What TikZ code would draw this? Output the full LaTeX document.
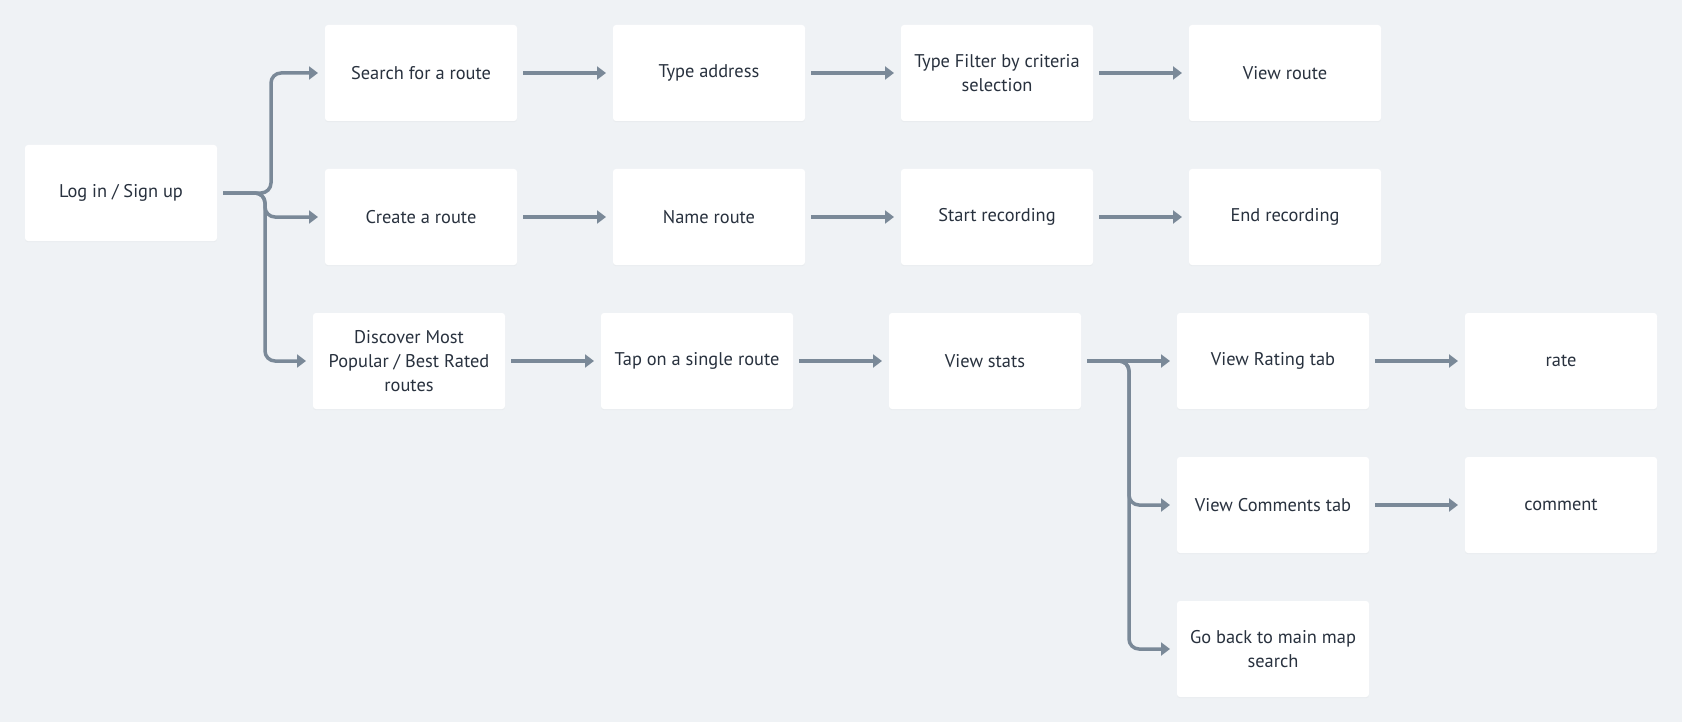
\documentclass[tikz,border=0pt]{standalone}
\usepackage{fontspec}
\setmainfont{PT Sans}
\usepackage{tikz}
\usetikzlibrary{arrows.meta,positioning,shadows}
\definecolor{pagebg}{RGB}{239,242,245}
\definecolor{linkline}{RGB}{122,137,152}
\definecolor{boxtext}{RGB}{40,49,62}

\begin{document}
\begin{tikzpicture}[
    x=0.5pt, y=-0.5pt,
    node distance=24pt and 48pt,
    stepbox/.style={rectangle, rounded corners=1.5pt, fill=white, text=boxtext, outer sep=0pt,
                    minimum width=96pt, minimum height=48pt, align=center,
                    font=\fontsize{9.2}{11.8}\selectfont,
                    drop shadow={shadow xshift=0pt, shadow yshift=-0.6pt, opacity=0.05}},
    arr/.style={-{Triangle[length=4.5pt, width=6.5pt]}, line width=1.75pt, linkline},
    link/.style={arr, shorten <=3pt, shorten >=3.5pt},
    fork/.style={arr, rounded corners=5pt}
]
\fill[pagebg] (0,0) rectangle (1682,722);
\useasboundingbox (0,0) rectangle (1682,722);

\node[stepbox] (login) at (121,193) {Log in / Sign up};

% search row
\node[stepbox] (search) at (421,73) {Search for a route};
\node[stepbox, right=of search] (address) {Type address};
\node[stepbox, right=of address] (filter) {Type Filter by criteria\\selection};
\node[stepbox, right=of filter] (viewroute) {View route};

% create row
\node[stepbox, below=of search] (create) {Create a route};
\node[stepbox, right=of create] (name) {Name route};
\node[stepbox, right=of name] (startrec) {Start recording};
\node[stepbox, right=of startrec] (endrec) {End recording};

% discover row
\node[stepbox] (discover) at (409,361) {Discover Most\\Popular / Best Rated\\routes};
\node[stepbox, right=of discover] (tap) {Tap on a single route};
\node[stepbox, right=of tap] (stats) {View stats};
\node[stepbox, right=of stats] (rating) {View Rating tab};
\node[stepbox, right=of rating] (rate) {rate};
\node[stepbox, below=of rating] (comments) {View Comments tab};
\node[stepbox, right=of comments] (comment) {comment};
\node[stepbox, below=of comments] (goback) {Go back to main map\\search};

\draw[fork] ([xshift=3pt]login.east) -| ([xshift=-27pt]search.west) -- ([xshift=-3.5pt]search.west);
\draw[fork] ([xshift=3pt]login.east) -| ([xshift=-30pt]create.west) -- ([xshift=-3.5pt]create.west);
\draw[fork] ([xshift=3pt]login.east) -| ([xshift=-24pt]discover.west) -- ([xshift=-3.5pt]discover.west);

\draw[link] (search) -- (address);
\draw[link] (address) -- (filter);
\draw[link] (filter) -- (viewroute);
\draw[link] (create) -- (name);
\draw[link] (name) -- (startrec);
\draw[link] (startrec) -- (endrec);
\draw[link] (discover) -- (tap);
\draw[link] (tap) -- (stats);
\draw[link] (stats) -- (rating);
\draw[link] (rating) -- (rate);
\draw[link] (comments) -- (comment);

\draw[fork] ([xshift=3pt]stats.east) -| ([xshift=-24pt]comments.west) -- ([xshift=-3.5pt]comments.west);
\draw[fork] ([xshift=3pt]stats.east) -| ([xshift=-24pt]goback.west) -- ([xshift=-3.5pt]goback.west);
\end{tikzpicture}
\end{document}
